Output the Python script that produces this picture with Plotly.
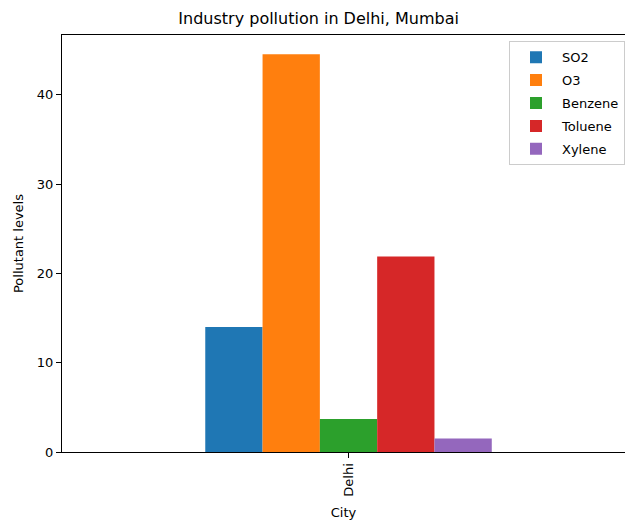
import plotly.graph_objects as go

cities = ["Delhi"]
pollutants = ["SO2", "O3", "Benzene", "Toluene", "Xylene"]
so2 = [14.0]
o3 = [44.55]
benzene = [3.7]
toluene = [21.9]
xylene = [1.5]
series_values = [so2, o3, benzene, toluene, xylene]
colors = ["#1f77b4", "#ff7f0e", "#2ca02c", "#d62728", "#9467bd"]
y_ticks = [0, 10, 20, 30, 40]

FONT = "DejaVu Sans"
W, H = 626, 523

fig = go.Figure()
for name, vals, col in zip(pollutants, series_values, colors):
    fig.add_trace(go.Bar(x=cities, y=vals, name=name, legendgroup=name,
                         marker=dict(color=col, line=dict(width=0))))

fig.update_layout(
    width=W, height=H,
    margin=dict(l=62, r=1, t=35, b=71),
    paper_bgcolor="white", plot_bgcolor="white",
    barmode="group", bargap=0.5, bargroupgap=0,
    font=dict(family=FONT, size=13, color="black"),
    title=dict(text="Industry pollution in Delhi, Mumbai", x=0.509, xanchor="center",
               y=1 - 18 / H, yanchor="middle", font=dict(size=16, family=FONT, color="black")),
    legend=dict(x=1, xanchor="right", y=0.985, yanchor="top", bordercolor="#cccccc", borderwidth=1,
                bgcolor="rgba(255,255,255,0.8)", font=dict(size=13, family=FONT),
                tracegroupgap=3, itemwidth=42),
    showlegend=True,
)
fig.update_xaxes(
    type="category", range=[-0.5, 0.4825],
    showline=True, linecolor="black", linewidth=1, mirror=True,
    ticks="outside", ticklen=5, tickcolor="black", tickangle=-90,
    showgrid=False, zeroline=False,
    title=dict(text="City", font=dict(size=13, family=FONT), standoff=12),
)
fig.update_yaxes(
    range=[0, 46.7], tickvals=y_ticks,
    showline=True, linecolor="black", linewidth=1, mirror=False,
    ticks="outside", ticklen=5, tickcolor="black",
    showgrid=False, zeroline=False,
    title=dict(text="Pollutant levels", font=dict(size=13, family=FONT), standoff=10),
)

fig.write_html("out.html", config={"displayModeBar": False},
               post_script="document.body.style.margin='0';document.body.style.overflow='hidden';")
